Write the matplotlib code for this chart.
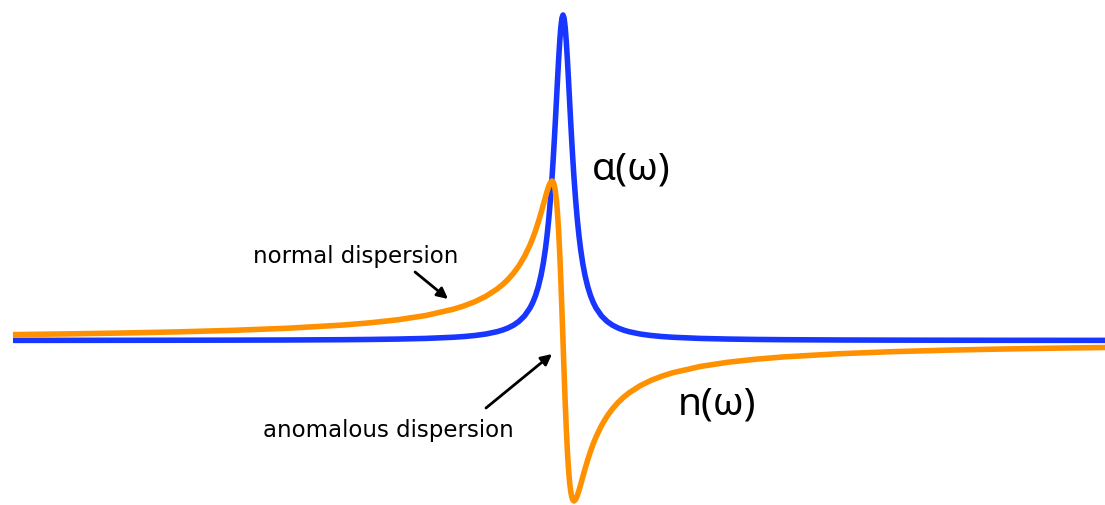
import matplotlib.pyplot as plt

# === Data: detuning from resonance (in linewidths) and the two responses ===

detuning = [
    -50, -45, -40, -35, -30, -25, -20, -17.5, -15, -12.5,
    -10, -9, -8, -7, -6, -5.5, -5, -4.5, -4, -3.5,
    -3, -2.75, -2.5, -2.25, -2, -1.8, -1.6, -1.45, -1.3, -1.15,
    -1, -0.9, -0.8, -0.7, -0.6, -0.5, -0.4, -0.3, -0.2, -0.1,
    0,
    0.1, 0.2, 0.3, 0.4, 0.5, 0.6, 0.7, 0.8, 0.9, 1,
    1.15, 1.3, 1.45, 1.6, 1.8, 2, 2.25, 2.5, 2.75, 3,
    3.5, 4, 4.5, 5, 5.5, 6, 7, 8, 9, 10,
    12.5, 15, 17.5, 20, 25, 30, 35, 40, 45, 49.3,
]

# absorption coefficient alpha(omega)
absorption = [
    0.0013, 0.0016, 0.0020, 0.0027, 0.0036, 0.0052, 0.0081, 0.0106, 0.0144, 0.0207,
    0.0322, 0.0397, 0.0501, 0.0651, 0.0880, 0.1042, 0.1252, 0.1532, 0.1915, 0.2457,
    0.3255, 0.3801, 0.4490, 0.5369, 0.6510, 0.7677, 0.9143, 1.0491, 1.2100, 1.4015,
    1.6275, 1.7983, 1.9848, 2.1846, 2.3934, 2.6040, 2.8060, 2.9862, 3.1298, 3.2228,
    3.2550,
    3.2228, 3.1298, 2.9862, 2.8060, 2.6040, 2.3934, 2.1846, 1.9848, 1.7983, 1.6275,
    1.4015, 1.2100, 1.0491, 0.9143, 0.7677, 0.6510, 0.5369, 0.4490, 0.3801, 0.3255,
    0.2457, 0.1915, 0.1532, 0.1252, 0.1042, 0.0880, 0.0651, 0.0501, 0.0397, 0.0322,
    0.0207, 0.0144, 0.0106, 0.0081, 0.0052, 0.0036, 0.0027, 0.0020, 0.0016, 0.0013,
]

# refractive index n(omega), relative to its background value
index = [
    0.0640, 0.0711, 0.0800, 0.0914, 0.1065, 0.1278, 0.1596, 0.1823, 0.2124, 0.2544,
    0.3168, 0.3512, 0.3938, 0.4480, 0.5189, 0.5632, 0.6154, 0.6776, 0.7529, 0.8453,
    0.9600, 1.0277, 1.1034, 1.1876, 1.2800, 1.3585, 1.4382, 1.4956, 1.5465, 1.5845,
    1.6000, 1.5912, 1.5610, 1.5034, 1.4118, 1.2800, 1.1034, 0.8807, 0.6154, 0.3168,
    0.0000,
    -0.3168, -0.6154, -0.8807, -1.1034, -1.2800, -1.4118, -1.5034, -1.5610, -1.5912, -1.6000,
    -1.5845, -1.5465, -1.4956, -1.4382, -1.3585, -1.2800, -1.1876, -1.1034, -1.0277, -0.9600,
    -0.8453, -0.7529, -0.6776, -0.6154, -0.5632, -0.5189, -0.4480, -0.3938, -0.3512, -0.3168,
    -0.2544, -0.2124, -0.1823, -0.1596, -0.1278, -0.1065, -0.0914, -0.0800, -0.0711, -0.0649,
]
index_offset = -0.005

BLUE = "#1736ff"
ORANGE = "#ff9000"

# === Figure ===

fig = plt.figure(figsize=(11.05, 5.06), dpi=100)
ax = fig.add_axes([0, 0, 1, 1])
ax.set_xlim(-51.18, 49.27)
ax.set_ylim(-1.645, 3.415)
ax.axis("off")

ax.plot(detuning, absorption, color=BLUE, lw=4.0,
        solid_capstyle="butt", zorder=2)
ax.plot(detuning, [v + index_offset for v in index], color=ORANGE, lw=4.0,
        solid_capstyle="butt", zorder=3)

# curve labels
ax.text(6.2, 1.715, "α(ω)", fontsize=28, family="Noto Sans",
        ha="center", va="center")
ax.text(14.0, -0.635, "n(ω)", fontsize=28, family="Noto Sans",
        ha="center", va="center")

# dispersion regions
arrow = dict(arrowstyle="-|>", color="black", lw=2, mutation_scale=16,
             shrinkA=0, shrinkB=0)
ax.text(-28.2, 0.79, "normal dispersion", fontsize=16.5,
        family="DejaVu Sans", ha="left", va="baseline")
ax.annotate("", xy=(-10.45, 0.415), xytext=(-13.45, 0.685),
            arrowprops=arrow)
ax.text(-27.3, -0.955, "anomalous dispersion", fontsize=16.5,
        family="DejaVu Sans", ha="left", va="baseline")
ax.annotate("", xy=(-1.0, -0.135), xytext=(-7.0, -0.675),
            arrowprops=arrow)

fig.savefig("out.png", dpi=100)
